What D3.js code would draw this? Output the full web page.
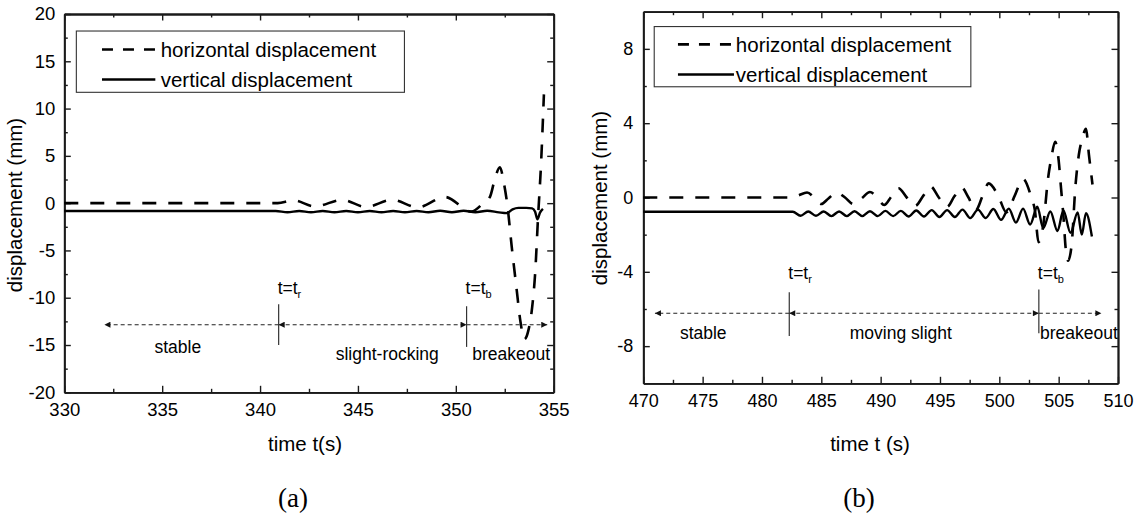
<!DOCTYPE html>
<html><head><meta charset="utf-8">
<script src="https://cdn.jsdelivr.net/npm/d3@7"></script>
<style>
body{margin:0;background:#fff}
svg{display:block}
text{font-family:"Liberation Sans",Arial,sans-serif;fill:#000}
</style>
</head><body>
<svg id="c" width="1138" height="518"></svg>
<script>
// ---------- DATA : panel (a) ----------
const timeHA = [330, 340.9, 341.7, 342.8, 344.2, 345.4, 346.75, 348.05, 349.45, 350.8, 351.4, 351.75, 352.0, 352.25, 352.45, 352.65, 352.85, 353.1, 353.3, 353.5, 353.7, 353.9, 354.05, 354.2, 354.35, 354.5];
const horizA = [0, 0, 0.3, -0.35, 0.35, -0.4, 0.35, -0.45, 0.65, -0.9, 0.0, 0.7, 2.6, 3.8, 2.2, -0.5, -4.5, -9.0, -12.5, -14.4, -13.5, -11, -7.5, -1.5, 4, 11.5];
const timeVA = [330, 340.8, 341.4, 342.0, 342.6, 343.2, 343.8, 344.4, 345.0, 345.6, 346.2, 346.8, 347.4, 348.0, 348.6, 349.2, 349.8, 350.4, 351.0, 351.6, 352.2, 352.6, 352.9, 353.2, 353.6, 353.9, 354.05, 354.17, 354.3, 354.45];
const vertA  = [-0.83, -0.83, -0.97, -0.83, -0.97, -0.83, -0.97, -0.83, -0.97, -0.83, -0.97, -0.83, -0.97, -0.83, -0.97, -0.8, -0.97, -0.8, -0.97, -0.8, -0.97, -1.05, -0.65, -0.5, -0.5, -0.55, -0.9, -1.7, -1.0, -0.6];
const xTicksA = [330, 335, 340, 345, 350, 355];
const xMinorA = [332.5, 337.5, 342.5, 347.5, 352.5];
const yTicksA = [-20, -15, -10, -5, 0, 5, 10, 15, 20];
const yMinorA = [-17.5, -12.5, -7.5, -2.5, 2.5, 7.5, 12.5, 17.5];
const phasesA = ["stable", "slight-rocking", "breakeout"];
const phaseTA = [335.8, 346.5, 352.83];
const phaseYA = [-15.2, -15.9, -15.9];
const markA = [332.05, 340.95, 350.55, 354.67]; // arrow left end, t_r, t_b, arrow right end
const arrowYA = -12.85;

// ---------- DATA : panel (b) ----------
const timeHB = [470, 482.3, 483.0, 483.8, 484.4, 485.0, 485.6, 486.3, 487.0, 487.7, 488.4, 489.1, 489.7, 490.3, 490.9, 491.5, 492.2, 492.9, 493.6, 494.2, 494.9, 495.6, 496.2, 496.8, 497.4, 498.0, 498.6, 499.1, 499.9, 500.6, 501.3, 502.0, 502.7, 503.0, 503.3, 503.7, 504.1, 504.4, 504.7, 505.0, 505.2, 505.4, 505.6, 505.8, 506.1, 506.4, 506.7, 507.0, 507.3, 507.55, 507.85];
const horizB = [0, 0, 0.1, 0.27, 0, -0.35, -0.05, 0.27, 0, -0.35, -0.05, 0.3, 0, -0.4, 0.05, 0.5, 0, -0.45, 0.1, 0.6, 0, -0.5, 0.05, 0.55, 0, -0.7, 0.1, 0.76, 0.1, -0.8, 0.1, 1.0, 0, -0.7, -2.4, -1.5, 1.0, 2.2, 3.0, 2.0, 0.5, -1.0, -2.8, -3.4, -2.5, 0.5, 2.3, 3.2, 3.7, 2.3, 0.7];
const timeVB = [470, 482.6, 483.25, 483.9, 484.55, 485.2, 485.85, 486.5, 487.15, 487.8, 488.45, 489.1, 489.75, 490.4, 491.05, 491.7, 492.35, 493.0, 493.65, 494.3, 494.95, 495.6, 496.25, 496.9, 497.55, 498.2, 498.85, 499.5, 500.15, 500.8, 501.4, 502.0, 502.6, 503.2, 503.7, 504.3, 504.9, 505.4, 506.0, 506.6, 506.95, 507.3, 507.8];
const vertB  = [-0.77, -0.77, -0.98, -0.75, -0.98, -0.75, -1.0, -0.75, -1.0, -0.74, -1.0, -0.74, -1.0, -0.72, -1.0, -0.72, -1.02, -0.7, -1.02, -0.68, -1.05, -0.68, -1.05, -0.65, -1.1, -0.65, -1.1, -0.62, -1.2, -0.6, -1.35, -0.6, -1.45, -0.5, -1.65, -0.75, -1.8, -0.7, -1.9, -0.8, -2.0, -0.84, -2.1];
const xTicksB = [470, 475, 480, 485, 490, 495, 500, 505, 510];
const xMinorB = [472.5, 477.5, 482.5, 487.5, 492.5, 497.5, 502.5, 507.5];
const yTicksB = [-8, -4, 0, 4, 8];
const yMinorB = [-6, -2, 2, 6];
const phasesB = ["stable", "moving slight", "breakeout"];
const phaseTB = [475.05, 491.7, 506.7];
const phaseYB = [-7.3, -7.3, -7.3];
const markB = [470.98, 482.3, 503.33, 508.6];
const arrowYB = -6.23;

const legendLabels = ["horizontal displacement", "vertical displacement"];

// ---------- DRAWING ----------
const svg = d3.select("#c");
const defs = svg.append("defs");
defs.append("marker").attr("id","ah").attr("viewBox","0 0 10 10")
  .attr("refX",10).attr("refY",5).attr("markerWidth",9).attr("markerHeight",6)
  .attr("markerUnits","userSpaceOnUse").attr("orient","auto-start-reverse")
  .append("path").attr("d","M0,0L10,5L0,10Z").attr("fill","#111");

function panel(o){
  const g = svg.append("g");
  const x = d3.scaleLinear().domain(o.xd).range(o.xr);
  const y = d3.scaleLinear().domain(o.yd).range(o.yr);
  const fmt = d => String(d);
  const axStyle = (sel) => {
    sel.select(".domain").attr("stroke","#1a1a1a").attr("stroke-width",1.8);
    sel.selectAll(".tick line").attr("stroke","#1a1a1a").attr("stroke-width",1.4);
    sel.selectAll("text").style("font-size", o.tickFont+"px").attr("fill","#000");
  };
  // minor ticks
  g.append("g").attr("transform",`translate(0,${o.yr[0]})`)
    .call(d3.axisBottom(x).tickValues(o.xMinor).tickSizeInner(-3.5).tickSizeOuter(0).tickFormat(""))
    .call(axStyle);
  g.append("g").attr("transform",`translate(0,${o.yr[1]})`)
    .call(d3.axisTop(x).tickValues(o.xMinor).tickSizeInner(-3.5).tickSizeOuter(0).tickFormat(""))
    .call(axStyle);
  g.append("g").attr("transform",`translate(${o.xr[0]},0)`)
    .call(d3.axisLeft(y).tickValues(o.yMinor).tickSizeInner(-3.5).tickSizeOuter(0).tickFormat(""))
    .call(axStyle);
  g.append("g").attr("transform",`translate(${o.xr[1]},0)`)
    .call(d3.axisRight(y).tickValues(o.yMinor).tickSizeInner(-3.5).tickSizeOuter(0).tickFormat(""))
    .call(axStyle);
  // major ticks
  g.append("g").attr("transform",`translate(0,${o.yr[0]})`)
    .call(d3.axisBottom(x).tickValues(o.xTicks).tickSizeInner(-6.5).tickSizeOuter(0).tickPadding(10.5).tickFormat(fmt))
    .call(axStyle);
  g.append("g").attr("transform",`translate(0,${o.yr[1]})`)
    .call(d3.axisTop(x).tickValues(o.xTicks).tickSizeInner(-6.5).tickSizeOuter(0).tickFormat(""))
    .call(axStyle);
  g.append("g").attr("transform",`translate(${o.xr[0]},0)`)
    .call(d3.axisLeft(y).tickValues(o.yTicks).tickSizeInner(-6.5).tickSizeOuter(0).tickPadding(o.yPad).tickFormat(fmt))
    .call(axStyle);
  g.append("g").attr("transform",`translate(${o.xr[1]},0)`)
    .call(d3.axisRight(y).tickValues(o.yTicks).tickSizeInner(-6.5).tickSizeOuter(0).tickFormat(""))
    .call(axStyle);

  // data lines
  const line = d3.line().x(d=>x(d[0])).y(d=>y(d[1])).curve(d3.curveMonotoneX);
  g.append("path").datum(d3.zip(o.tH, o.h)).attr("d", line)
    .attr("fill","none").attr("stroke","#000").attr("stroke-width",2.6).attr("stroke-dasharray","14,12");
  g.append("path").datum(d3.zip(o.tV, o.v)).attr("d", line)
    .attr("fill","none").attr("stroke","#000").attr("stroke-width",2.4).attr("stroke-linejoin","round");

  // legend
  const w = o.xr[1]-o.xr[0], h = o.yr[0]-o.yr[1];
  const L = o.leg;
  const lx = v => o.xr[0]+v*w, ly = v => o.yr[1]+v*h;
  g.append("rect").attr("x",lx(L.box[0])).attr("y",ly(L.box[1]))
    .attr("width",lx(L.box[2])-lx(L.box[0])).attr("height",ly(L.box[3])-ly(L.box[1]))
    .attr("fill","#fff").attr("stroke","#333").attr("stroke-width",1.1);
  legendLabels.forEach((lab,i)=>{
    const yy = ly(L.rows[i]);
    g.append("line").attr("x1",lx(L.line[0])).attr("x2",lx(L.line[1])).attr("y1",yy).attr("y2",yy)
      .attr("stroke","#000").attr("stroke-width",2.6).attr("stroke-dasharray", i===0 ? "11,10" : null);
    g.append("text").attr("x",lx(L.text)).attr("y",yy).attr("dy","0.35em")
      .style("font-size",o.legFont+"px").text(lab);
  });

  // phase arrows
  const ay = y(o.arrowY);
  const m = o.mark;
  const arrowStyle = s => s.attr("stroke","#222").attr("stroke-width",1.1).attr("stroke-dasharray","4,3").attr("fill","none");
  g.append("line").attr("x1",x(m[1])).attr("x2",x(m[0])).attr("y1",ay).attr("y2",ay).call(arrowStyle).attr("marker-end","url(#ah)");
  g.append("line").attr("x1",x(m[1])).attr("x2",x(m[2])).attr("y1",ay).attr("y2",ay).call(arrowStyle)
    .attr("marker-start","url(#ah)").attr("marker-end","url(#ah)");
  g.append("line").attr("x1",x(m[2])).attr("x2",x(m[3])).attr("y1",ay).attr("y2",ay).call(arrowStyle).attr("marker-end","url(#ah)");
  // t_r / t_b marks
  [[m[1],o.trSpan,"r"],[m[2],o.tbSpan,"b"]].forEach(([t,sp,sub])=>{
    g.append("line").attr("x1",x(t)).attr("x2",x(t)).attr("y1",y(sp[0])).attr("y2",y(sp[1]))
      .attr("stroke","#333").attr("stroke-width",1.2);
    const tx = g.append("text").attr("x",x(t)-1).attr("y",y(sp[2])).style("font-size","17.5px");
    tx.append("tspan").text("t=t");
    tx.append("tspan").attr("dy",4).style("font-size","11px").text(sub);
  });
  o.phases.forEach((p,i)=>{
    g.append("text").attr("x",x(o.phaseT[i])).attr("y",y(o.phaseY[i])).attr("dy","0.35em")
      .attr("text-anchor","middle").style("font-size","17.5px").text(p);
  });

  // axis titles
  g.append("text").attr("x",o.xTitle[0]).attr("y",o.xTitle[1]).attr("text-anchor","middle")
    .style("font-size","20.5px").text(o.xLabel);
  g.append("text").attr("transform",`translate(${o.yTitle[0]},${o.yTitle[1]}) rotate(-90)`)
    .attr("text-anchor","middle").style("font-size","20.5px").text("displacement (mm)");
  g.append("text").attr("x",o.cap[0]).attr("y",o.cap[1]).attr("text-anchor","middle")
    .style("font-family",'"Liberation Serif","Times New Roman",serif').style("font-size","27px").text(o.capText);
}

panel({
  xd:[330,355], xr:[64.3,553.7], yd:[-20,20], yr:[392.3,14],
  xTicks:xTicksA, xMinor:xMinorA, yTicks:yTicksA, yMinor:yMinorA,
  tH:timeHA, h:horizA, tV:timeVA, v:vertA,
  tickFont:18.5, legFont:20.5, yPad:9,
  leg:{box:[0.0246,0.045,0.695,0.207], rows:[0.094,0.173], line:[0.077,0.186], text:0.197},
  arrowY:arrowYA, mark:markA, trSpan:[-10.7,-15.0,-9.65], tbSpan:[-10.9,-15.2,-9.65],
  phases:phasesA, phaseT:phaseTA, phaseY:phaseYA,
  xTitle:[305,451], xLabel:"time t(s)", yTitle:[22,205], cap:[293,507], capText:"(a)"
});
panel({
  xd:[470,510], xr:[643.3,1118], yd:[-10,10], yr:[383.3,11.7],
  xTicks:xTicksB, xMinor:xMinorB, yTicks:yTicksB, yMinor:yMinorB,
  tH:timeHB, h:horizB, tV:timeVB, v:vertB,
  tickFont:18, legFont:20.5, yPad:10,
  leg:{box:[0.023,0.040,0.69,0.202], rows:[0.088,0.169], line:[0.073,0.191], text:0.195},
  arrowY:arrowYB, mark:markB, trSpan:[-5.1,-7.45,-4.4], tbSpan:[-4.95,-7.3,-4.4],
  phases:phasesB, phaseT:phaseTB, phaseY:phaseYB,
  xTitle:[870,451], xLabel:"time t (s)", yTitle:[607,198], cap:[859,507], capText:"(b)"
});
</script>
</body></html>
